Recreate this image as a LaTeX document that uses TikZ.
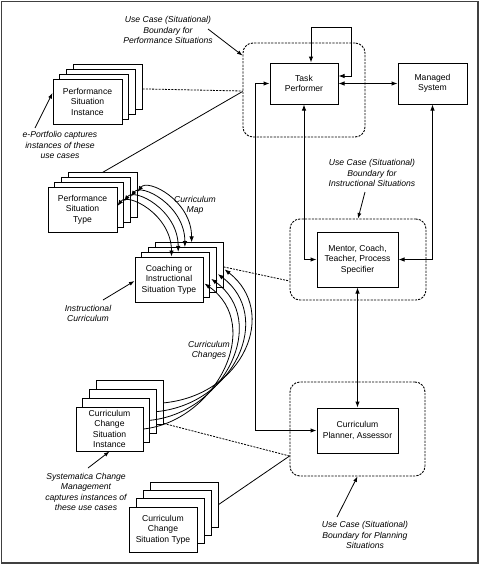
\documentclass[tikz,border=0pt]{standalone}
\usepackage{fontspec}
\setmainfont{Liberation Sans}
\usetikzlibrary{arrows.meta,calc}
\newcommand\mkstack[8]{%
  \foreach \k in {3,2,1}{\node[box,minimum width=#6pt,minimum height=#7pt] (#1-\k) at ({#2+\k*#4},{#3+\k*#5}) {};}
  \node[box,minimum width=#6pt,minimum height=#7pt,alias=#1] (#1-0) at (#2,#3) {#8};
}
\begin{document}
\begin{tikzpicture}[x=1pt,y=-1pt,
  >={Latex[length=6pt,width=4.5pt]},
  box/.style={draw,line width=1pt,fill=white,inner sep=0pt,align=center,font=\fontsize{8.6}{10.5}\selectfont},
  bnd/.style={draw,line width=0.9pt,dash pattern=on 2.2pt off 1.2pt,rounded corners=10pt,inner sep=0pt},
  lbl/.style={align=center,font=\fontsize{8.6}{10.5}\selectfont\itshape,inner sep=0pt},
  conn/.style={line width=1pt,<->},
  curv/.style={line width=0.8pt},
  pointer/.style={line width=0.8pt,-{Latex[length=5.5pt,width=4pt]}},
  assocd/.style={line width=0.8pt,dash pattern=on 2pt off 1.2pt},
  assocs/.style={line width=0.8pt}]
\useasboundingbox (0,0) rectangle (480,566);
\draw[line width=1.6pt,black!75] (1.5,1.5) rectangle (478,563);

% boundaries
\node[bnd,minimum width=122pt,minimum height=94pt] (bp) at (304,90) {};
\node[bnd,minimum width=136pt,minimum height=81pt] (bi) at (358,259.5) {};
\node[bnd,minimum width=135pt,minimum height=94pt] (bl) at (357.5,429) {};

% role boxes
\node[box,minimum width=68pt,minimum height=41pt] (tp) at (304,83.5) {Task\\Performer};
\node[box,minimum width=69pt,minimum height=41pt] (ms) at (432.5,83.5) {Managed\\System};
\node[box,minimum width=81pt,minimum height=55pt] (me) at (357.5,259.5) {Mentor, Coach,\\Teacher, Process\\Specifier};
\node[box,minimum width=81pt,minimum height=45pt] (pl) at (357.5,430.5) {Curriculum\\Planner, Assessor};

% stacks
\mkstack{psi}{87.5}{101.5}{6.7}{-4.7}{69}{45}{Performance\\Situation\\Instance}
\mkstack{pst}{82.5}{209.5}{6.7}{-4.7}{69}{45}{Performance\\Situation\\Type}
\mkstack{co}{169}{279.5}{6.7}{-4.7}{68}{45}{Coaching or\\Instructional\\Situation Type}
\mkstack{cc}{109.5}{429}{6.7}{-8.7}{67}{44}{Curriculum\\Change\\Situation\\Instance}
\mkstack{ct}{163}{529.5}{7}{-8.3}{68}{45}{Curriculum\\Change\\Situation Type}

% connectors between roles
\coordinate (lpa) at (311,27);
\coordinate (lpb) at (351,27);
\draw[conn] (tp.north -| lpa) -- (lpa) -- (lpb) -- ($(tp.east -| lpb)+(0,-7.5)$) -- ($(tp.east)+(0,-7.5)$);
\draw[conn] (tp.east) -- (ms.west);
\draw[conn] (tp.west) -- ++(-14,0) |- (pl.west);
\draw[conn] (tp.south) |- (me.west);
\draw[conn] (ms.south) |- (me.east);
\draw[conn] (me.south) -- (pl.north);

% association lines to boundaries
\draw[assocd] ($(psi-3.east)+(0,1.5)$) -- ($(bp.west)+(0,1)$);
\draw[assocs] (pst-3.north) -- ($(bp.west)+(0,1.5)$);
\draw[assocd] ($(co-3.east)+(0,1.5)$) -- ($(bi.west)+(0,21.5)$);
\draw[assocd] ($(cc-3.south east)+(0,-2)$) -- ($(bl.west)+(0,27)$);
\draw[assocs] (ct-3.east) -- ($(bl.west)+(0,27)$);

% curriculum map curves
\foreach \k in {0,1,2,3}{
  \draw[curv,<->] ($(pst-\k.east)+(0,-3.5)$) .. controls +(10,-14) and +(0,-42) .. ($(co-\k.north)+(2.5,0)$);
}
% curriculum change curves
\foreach \k in {0,1,2,3}{
  \draw[curv,->] (cc-\k.east) .. controls +({72+3*\k},-8) and +({60-2*\k},42) .. ($(co-\k.east)+(1,4)$);
}

% labels
\node[lbl] (lperf) at (168,30) {Use Case (Situational)\\Boundary for\\Performance Situations};
\coordinate (tperf) at (208,29);
\draw[pointer] (tperf) -- ($(bp.north west)+(0,13)$);

\node[lbl] (leport) at (60,145) {e-Portfolio captures\\instances of these\\use cases};
\coordinate (teport) at (35,128);
\draw[pointer] (teport) -- ($(psi.west)+(0,-8.5)$);

\node[lbl] (linstr) at (372,173) {Use Case (Situational)\\Boundary for\\Instructional Situations};
\coordinate (tinstr) at (365,192);
\draw[pointer] (tinstr) -- (bi.north);

\node[lbl] (lcurr) at (88,313.5) {Instructional\\Curriculum};
\coordinate (tcurr) at (103,300);
\draw[pointer] (tcurr) -- ($(co.west)+(0,1.5)$);

\node[lbl] (lmap) at (195,205.5) {Curriculum\\Map};
\node[lbl] (lchg) at (209,350.5) {Curriculum\\Changes};

\node[lbl] (lsys) at (86,492) {Systematica Change\\Management\\captures instances of\\these use cases};
\coordinate (tsys) at (88,468);
\draw[pointer] (tsys) -- (cc.south);

\node[lbl] (lplan) at (365,535) {Use Case (Situational)\\Boundary for Planning\\Situations};
\coordinate (tplan) at (337,517);
\draw[pointer] (tplan) -- (bl.south);
\end{tikzpicture}
\end{document}
